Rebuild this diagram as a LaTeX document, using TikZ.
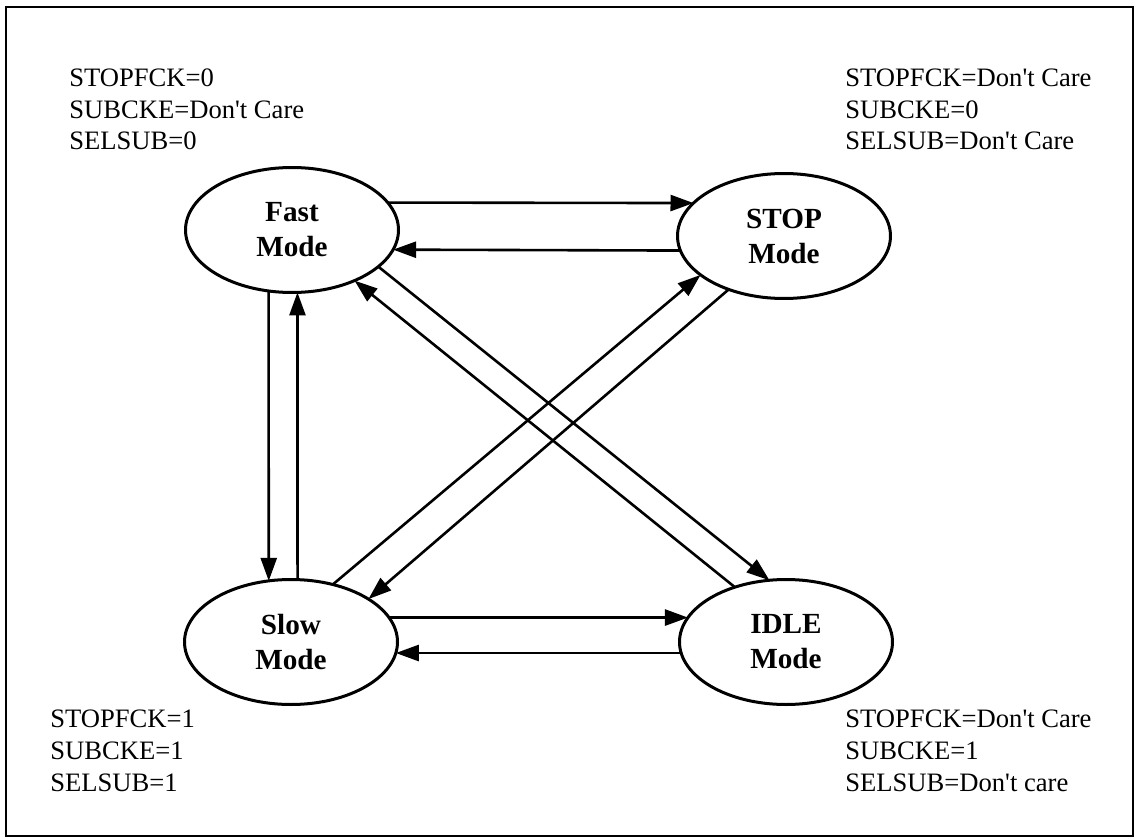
\documentclass[tikz,border=0pt]{standalone}
\usepackage{fontspec}
\setmainfont{Liberation Serif}
\usetikzlibrary{shapes.geometric,arrows.meta}

\begin{document}
\begin{tikzpicture}[x=0.5pt,y=-0.5pt,
	modestate/.style={draw,ellipse,line width=1.5pt,minimum width=106.5pt,minimum height=62.5pt,inner sep=0pt,outer sep=0pt,align=center,font=\fontsize{14.6pt}{17.5pt}\selectfont\bfseries},
	cond/.style={anchor=base west,align=left,inner sep=0pt,font=\fontsize{13.3pt}{16pt}\selectfont},
	trans/.style={line width=1.3pt,-{Triangle[length=11.5pt,width=8pt]}}]
	\useasboundingbox (0,0) rectangle (1136,840);
	\draw[line width=1pt] (6,7) rectangle (1133,836);
	% the four modes
	\node[modestate] (fast) at (292,230) {Fast\\Mode};
	\node[modestate] (stop) at (784,236) {STOP\\Mode};
	\node[modestate] (slow) at (291,642) {Slow\\Mode};
	\node[modestate] (idle) at (786,642) {IDLE\\Mode};
	% register settings (placed at the last baseline)
	\node[cond] (fastcond) at (69,150) {STOPFCK=0\\SUBCKE=Don\textquotesingle t Care\\SELSUB=0};
	\node[cond] (stopcond) at (845,150) {STOPFCK=Don\textquotesingle t Care\\SUBCKE=0\\SELSUB=Don\textquotesingle t Care};
	\node[cond] (slowcond) at (50,791) {STOPFCK=1\\SUBCKE=1\\SELSUB=1};
	\node[cond] (idlecond) at (845,791) {STOPFCK=Don\textquotesingle t Care\\SUBCKE=1\\SELSUB=Don\textquotesingle t care};
	% transitions
	\draw[trans] (fast.16) -- (stop.160);
	\draw[trans] (stop.188) -- (fast.-11);
	\draw[trans] (fast.249) -- (slow.110);
	\draw[trans] (slow.84) -- (fast.275);
	\draw[trans] (fast.-23) -- (idle.105);
	\draw[trans] (idle.133) -- (fast.-39);
	\draw[trans] (slow.54) -- (stop.205);
	\draw[trans] (stop.224) -- (slow.29);
	\draw[trans] (slow.14) -- (idle.166);
	\draw[trans] (idle.186) -- (slow.-6);
\end{tikzpicture}
\end{document}
